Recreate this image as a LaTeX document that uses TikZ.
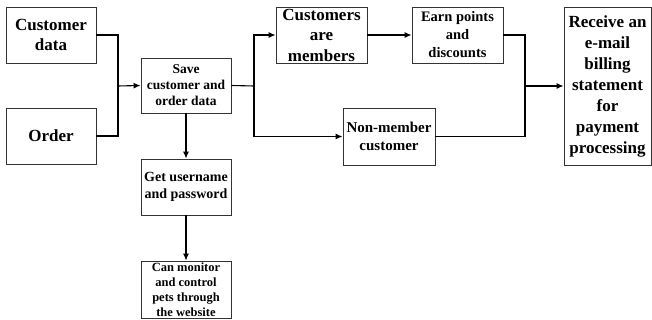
\documentclass[tikz,border=0pt]{standalone}
\usepackage{fontspec}
\setmainfont{Liberation Serif}
\usetikzlibrary{arrows.meta}
\begin{document}
\begin{tikzpicture}[x=1pt,y=-1pt,
  box/.style={draw=black!80,line width=0.9pt,rectangle,inner sep=0pt,align=center,font=\bfseries},
  conn/.style={line width=1.1pt,black},
  arr/.style={conn,-{Latex[length=7pt,width=6pt]}}]
\useasboundingbox (0,0) rectangle (652,320);
\node[box,minimum width=90pt,minimum height=56pt,font=\fontsize{17}{20}\selectfont\bfseries] (cd) at (51,35) {Customer\\data};
\node[box,minimum width=90pt,minimum height=56pt,font=\fontsize{17}{20}\selectfont\bfseries] (ord) at (51,136) {Order};
\node[box,minimum width=90pt,minimum height=55pt,font=\fontsize{13.5}{16}\selectfont\bfseries] (save) at (186,85.5) {Save\\customer and\\order data};
\node[box,minimum width=90pt,minimum height=56pt,font=\fontsize{14}{17.5}\selectfont\bfseries] (get) at (186,187) {Get username\\and password};
\node[box,minimum width=90pt,minimum height=57pt,font=\fontsize{12.5}{15}\selectfont\bfseries] (can) at (186,289.5) {Can monitor\\and control\\pets through\\the website};
\node[box,minimum width=91pt,minimum height=56pt,font=\fontsize{17}{20.5}\selectfont\bfseries] (mem) at (321.5,35) {Customers\\are\\members};
\node[box,minimum width=91pt,minimum height=56pt,font=\fontsize{14.5}{18}\selectfont\bfseries] (earn) at (457.5,35) {Earn points\\and\\discounts};
\node[box,minimum width=92pt,minimum height=57pt,font=\fontsize{15}{18}\selectfont\bfseries] (non) at (389,136.5) {Non-member\\customer};
\node[box,minimum width=87pt,minimum height=158pt,font=\fontsize{17}{21}\selectfont\bfseries] (rec) at (607.5,86) {Receive an\\e-mail\\billing\\statement\\for\\payment\\processing};
\coordinate (j1) at (118,86);
\coordinate (j2) at (254,86);
\coordinate (j3) at (525,86);
\draw[conn] (cd.east) -| (j1);
\draw[conn] (ord.east) -| (j1);
\draw[arr] (j1) -- (save.west);
\draw[conn] (save.east) -- (j2);
\draw[arr] (j2) |- (mem.west);
\draw[arr] (j2) |- (non.west);
\draw[arr] (mem.east) -- (earn.west);
\draw[conn] (earn.east) -| (j3);
\draw[conn] (non.east) -| (j3);
\draw[arr] (j3) -- (rec.west);
\draw[arr] (save.south) -- (get.north);
\draw[arr] (get.south) -- (can.north);
\end{tikzpicture}
\end{document}
